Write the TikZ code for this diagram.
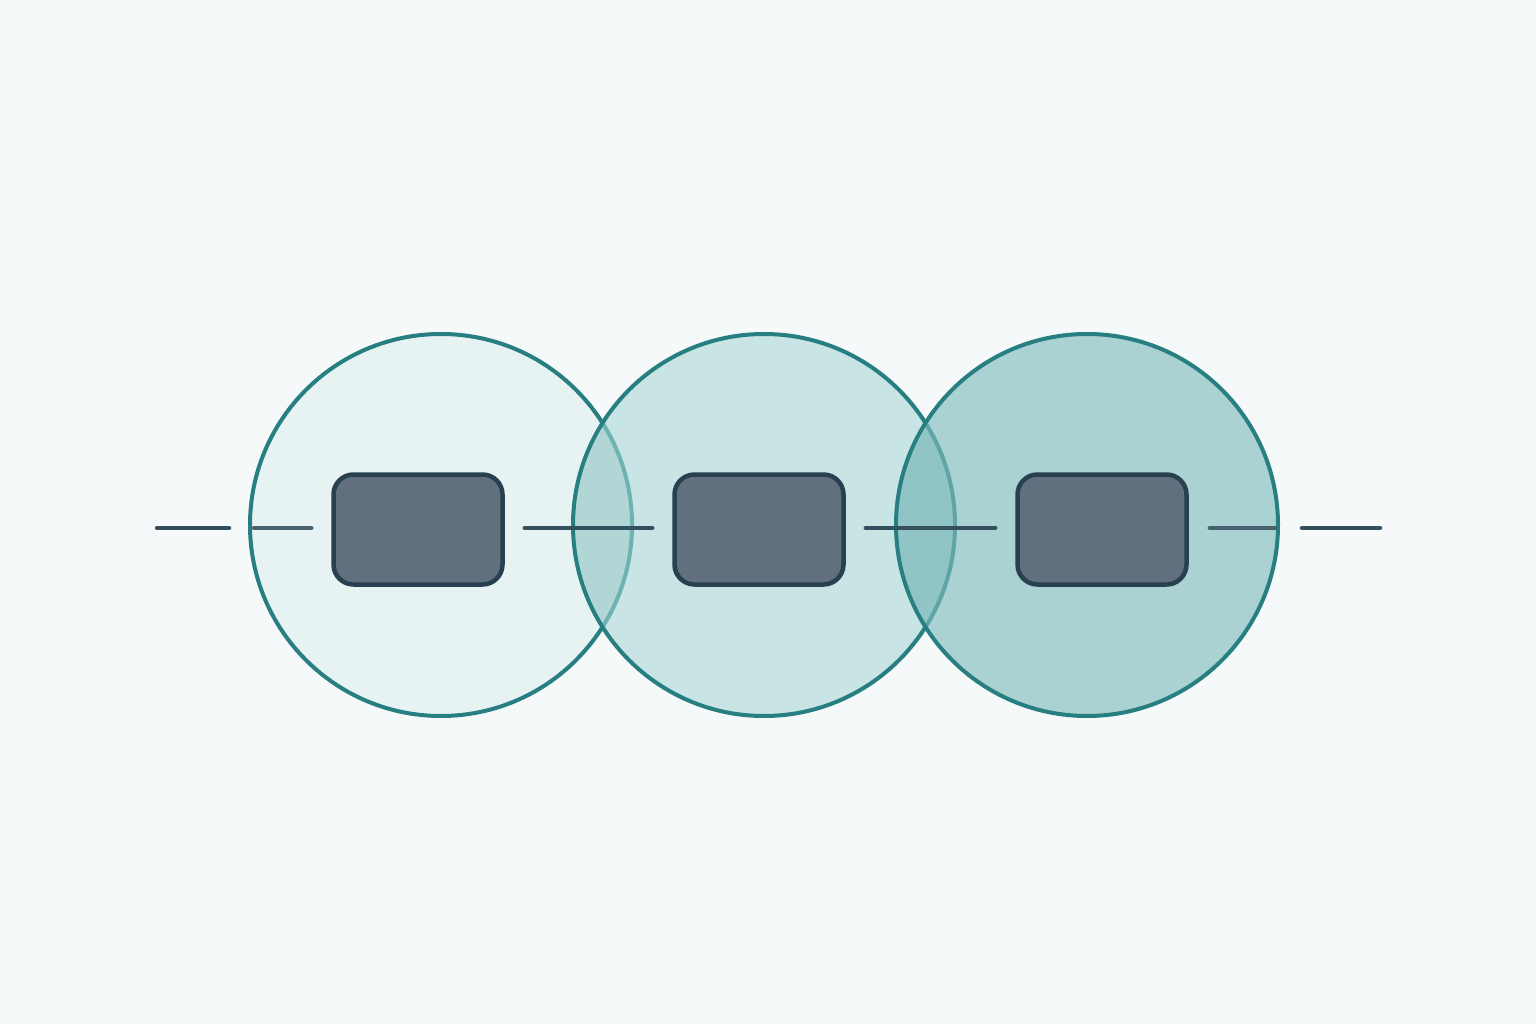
\documentclass[tikz,border=0pt]{standalone}
\begin{document}
\begin{tikzpicture}[x=1pt,y=-1pt,
  bgcol/.style={fill={rgb,255:red,245;green,249;blue,249}},
  ring/.style={circle,minimum size=382pt,inner sep=0pt,draw={rgb,255:red,40;green,127;blue,129},line width=4pt},
  box/.style={draw={rgb,255:red,40;green,64;blue,80},fill={rgb,255:red,96;green,112;blue,126},line width=4.5pt,rounded corners=20pt,minimum width=169pt,minimum height=110pt,inner sep=0pt},
  link/.style={draw={rgb,255:red,52;green,80;blue,95},line width=4.5pt,line cap=round},
  linkin/.style={draw={rgb,255:red,70;green,98;blue,112},line width=4.5pt,line cap=round}
]
\useasboundingbox (0,0) rectangle (1536,1024);
\fill[bgcol] (0,0) rectangle (1536,1024);
\definecolor{cA}{RGB}{231,243,243}
\definecolor{cB}{RGB}{200,228,228}
\definecolor{cC}{RGB}{170,210,211}
\definecolor{lAB}{RGB}{178,214,214}
\definecolor{lBC}{RGB}{145,196,197}
\definecolor{fadeS}{RGB}{110,178,178}
\definecolor{fadeS2}{RGB}{95,165,166}
% circle 1
\node[ring,fill=cA] (c1) at (441,525) {};
% circle 2
\fill[cB] (764,525) circle (191);
\begin{scope}
  \clip (441,525) circle (191);
  \fill[lAB] (764,525) circle (191);
\end{scope}
\begin{scope}
  \clip (764,525) circle (191);
  \draw[fadeS,line width=4pt] (441,525) circle (191);
\end{scope}
\node[ring] (c2) at (764,525) {};
% circle 3
\fill[cC] (1087,525) circle (191);
\begin{scope}
  \clip (764,525) circle (191);
  \fill[lBC] (1087,525) circle (191);
\end{scope}
\begin{scope}
  \clip (1087,525) circle (191);
  \draw[fadeS2,line width=4pt] (764,525) circle (191);
\end{scope}
\node[ring] (c3) at (1087,525) {};
% boxes
\node[box] (b1) at (418,529.5) {};
\node[box] (b2) at (759,529.5) {};
\node[box] (b3) at (1102,529.5) {};
% coordinates
\coordinate (l0) at (157,528);
\coordinate (l1) at (229,528);
\coordinate (r0) at (1302,528);
\coordinate (r1) at (1380,528);
\coordinate (c1w) at (254,528);
\coordinate (c3e) at (1275,528);
% connectors
\draw[link] (l0) -- (l1);
\draw[linkin] (c1w) -- ([xshift=-20pt]b1.west |- c1w);
\draw[link] ([xshift=20pt]b1.east |- c1w) -- ([xshift=-20pt]b2.west |- c1w);
\draw[link] ([xshift=20pt]b2.east |- c1w) -- ([xshift=-20pt]b3.west |- c1w);
\draw[linkin] ([xshift=21pt]b3.east |- c1w) -- (c3e);
\draw[link] (r0) -- (r1);
\end{tikzpicture}
\end{document}
